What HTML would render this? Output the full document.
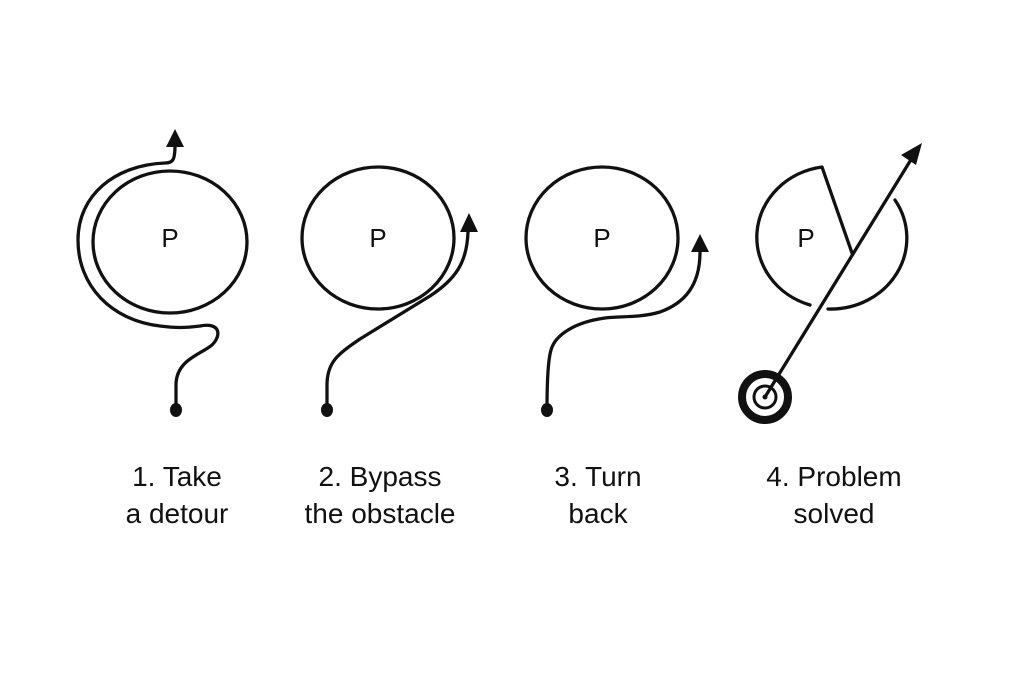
<!DOCTYPE html>
<html><head><style>
body{margin:0;background:#fff}
svg{display:block}
text{font-family:"Liberation Sans","DejaVu Sans",sans-serif;fill:#111}
</style></head><body>
<svg width="1024" height="683" viewBox="0 0 1024 683">
<g fill="none" stroke="#111" stroke-width="3.3" stroke-linecap="round" stroke-linejoin="round">
<ellipse cx="170" cy="242" rx="77" ry="71"/>
<path d="M176,410 L176,385 C176,360 200,355 212,345 C222,335 220,322 200,326 C185,328 175,328 160,326 C110,320 78,285 78,240 C78,195 115,165 165,163 C173,163 175,160 175,145"/>
<ellipse cx="378" cy="238" rx="76" ry="71"/>
<path d="M327,410 L327,385 C327,362 338,354 360,339 L430,296 C456,279 467,262 468,232"/>
<ellipse cx="602" cy="238" rx="76" ry="71"/>
<path d="M547,410 C547,380 548,360 551,350 C555,335 575,322 605,318 C620,316 640,318 660,312 C685,303 700,285 700,252"/>
<path d="M810,305 A76,71 0 0 1 822,167 L852,253"/>
<path d="M895,200 A76,71 0 0 1 828,309"/>
<path d="M765,397 L912,158"/>
</g>
<g fill="#111">
<path d="M175,129 L166,147 L184,147 Z"/>
<path d="M469,213 L460,232 L478,232 Z"/>
<path d="M700,234 L691,252 L709,252 Z"/>
<path d="M922,143 L901,155 L916,165 Z"/>
<ellipse cx="176" cy="410" rx="6" ry="7"/>
<ellipse cx="327" cy="410" rx="6" ry="7"/>
<ellipse cx="547" cy="410" rx="6" ry="7"/>
</g>
<circle cx="765" cy="397" r="23" fill="none" stroke="#111" stroke-width="8"/>
<circle cx="765" cy="397" r="11" fill="none" stroke="#111" stroke-width="3"/>
<circle cx="765" cy="397" r="2.5" fill="#111"/>
<g font-size="28" text-anchor="middle">
<text x="170" y="247" font-size="26">P</text>
<text x="378" y="247" font-size="26">P</text>
<text x="602" y="247" font-size="26">P</text>
<text x="806" y="247" font-size="26">P</text>
<text x="177" y="486">1. Take</text>
<text x="177" y="523">a detour</text>
<text x="380" y="486">2. Bypass</text>
<text x="380" y="523">the obstacle</text>
<text x="598" y="486">3. Turn</text>
<text x="598" y="523">back</text>
<text x="834" y="486">4. Problem</text>
<text x="834" y="523">solved</text>
</g>
</svg>
</body></html>
